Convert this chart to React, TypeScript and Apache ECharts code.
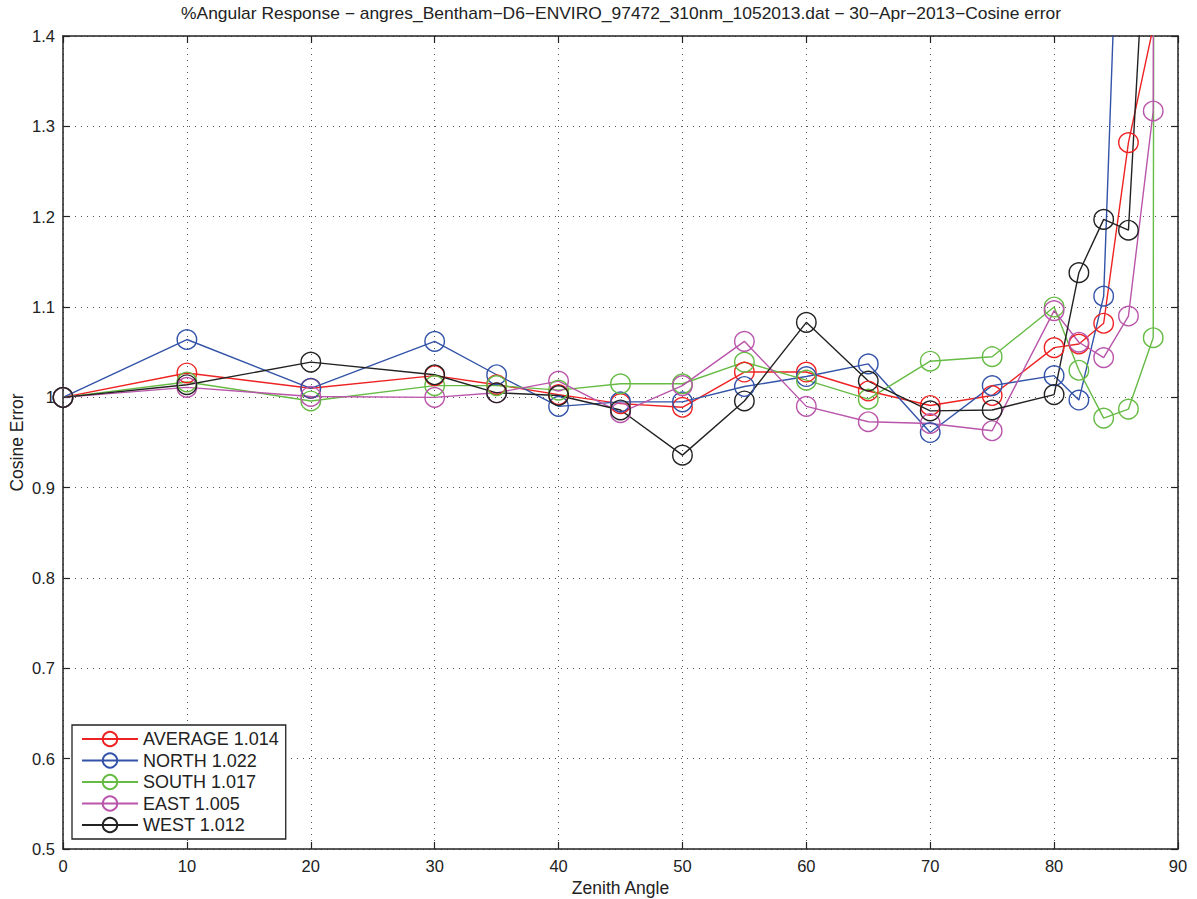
import React, { useEffect, useRef } from "react";
import * as echarts from "echarts";

const angles = [0, 10, 20, 30, 35, 40, 45, 50, 55, 60, 65, 70, 75, 80, 82, 84, 86, 88, 90];
const average = [1.0, 1.027, 1.01, 1.024, 1.014, 1.003, 0.993, 0.989, 1.028, 1.028, 1.007, 0.991, 1.002, 1.055, 1.059, 1.082, 1.282, 1.41, 20];
const north = [1.0, 1.064, 1.01, 1.062, 1.025, 0.99, 0.995, 0.995, 1.012, 1.023, 1.037, 0.961, 1.013, 1.024, 0.997, 1.112, 1.88, 3.0, 20];
const south = [1.0, 1.017, 0.996, 1.013, 1.013, 1.008, 1.015, 1.015, 1.039, 1.019, 0.998, 1.04, 1.045, 1.1, 1.03, 0.977, 0.987, 1.066, 20];
const east = [1.0, 1.011, 1.001, 1.0, 1.005, 1.018, 0.983, 1.013, 1.062, 0.99, 0.973, 0.971, 0.963, 1.096, 1.061, 1.044, 1.09, 1.317, 20];
const west = [1.0, 1.014, 1.039, 1.025, 1.005, 1.002, 0.986, 0.936, 0.996, 1.083, 1.018, 0.985, 0.986, 1.003, 1.138, 1.197, 1.185, 1.68, 20];

const seriesNames = ["AVERAGE 1.014", "NORTH 1.022", "SOUTH 1.017", "EAST 1.005", "WEST 1.012"];
const seriesValues = [average, north, south, east, west];
const seriesColors = ["#ee2222", "#3353a8", "#66bb44", "#b955aa", "#222222"];

const titleText = "%Angular Response \u2212 angres_Bentham\u2212D6\u2212ENVIRO_97472_310nm_1052013.dat \u2212 30\u2212Apr\u22122013\u2212Cosine error";

const FONT = "'Liberation Sans', Arial, Helvetica, sans-serif";

export default function App() {
  const ref = useRef<HTMLDivElement>(null);
  useEffect(() => {
    if (!ref.current) return;
    const chart = echarts.init(ref.current, null, { renderer: "svg" });
    const axisColor = "#222";
    const fmtY = (v: number) => String(parseFloat(v.toFixed(1)));
    const baseX = {
      type: "value",
      min: 0,
      max: 90,
      interval: 10,
      axisLine: { show: true, onZero: false, lineStyle: { color: axisColor, width: 1.5 } },
      axisTick: { show: true, inside: true, length: 7, lineStyle: { color: axisColor, width: 1.2 } },
    };
    const baseY = {
      type: "value",
      min: 0.5,
      max: 1.4,
      interval: 0.1,
      axisLine: { show: true, onZero: false, lineStyle: { color: axisColor, width: 1.5 } },
      axisTick: { show: true, inside: true, length: 7, lineStyle: { color: axisColor, width: 1.2 } },
    };
    const option: any = {
      animation: false,
      backgroundColor: "#fff",
      textStyle: { fontFamily: FONT },
      graphic: [
        {
          type: "text",
          x: 621,
          y: 14,
          scaleX: 1.09,
          style: {
            text: titleText,
            fontFamily: FONT,
            fontSize: 16,
            fill: "#222",
            align: "center",
            verticalAlign: "middle",
          },
        },
      ],
      grid: { left: 63, right: 19, top: 36, bottom: 50, containLabel: false, outerBoundsMode: "none" },
      legend: {
        orient: "vertical",
        left: 72,
        top: 725,
        backgroundColor: "#fff",
        borderColor: "#222",
        borderWidth: 1.3,
        padding: [5, 7, 5, 9],
        itemGap: 3.5,
        itemWidth: 56,
        itemHeight: 18,
        textStyle: { fontFamily: FONT, fontSize: 18, color: "#222" },
        data: seriesNames,
      },
      xAxis: [
        {
          ...baseX,
          position: "bottom",
          name: "Zenith Angle",
          nameLocation: "middle",
          nameGap: 30,
          nameMoveOverlap: false,
          nameTextStyle: { fontFamily: FONT, fontSize: 17.5, color: "#222" },
          axisLabel: { show: true, margin: 8, fontFamily: FONT, fontSize: 16.5, color: "#222" },
          splitLine: { show: true, lineStyle: { color: "#555", width: 1, type: [1, 5] } },
        },
        {
          ...baseX,
          position: "top",
          axisLabel: { show: false },
          splitLine: { show: false },
        },
      ],
      yAxis: [
        {
          ...baseY,
          position: "left",
          name: "Cosine Error",
          nameLocation: "middle",
          nameGap: 37,
          nameMoveOverlap: false,
          nameTextStyle: { fontFamily: FONT, fontSize: 17.5, color: "#222" },
          axisLabel: { show: true, margin: 8, fontFamily: FONT, fontSize: 16.5, color: "#222", formatter: fmtY },
          splitLine: { show: true, lineStyle: { color: "#555", width: 1, type: [1, 5] } },
        },
        {
          ...baseY,
          position: "right",
          axisLabel: { show: false },
          splitLine: { show: false },
        },
      ],
      series: seriesNames.map((name, i) => ({
        name,
        type: "line",
        xAxisIndex: 0,
        yAxisIndex: 0,
        data: angles.map((a, j) => [a, seriesValues[i][j]]),
        symbol: "circle",
        symbolSize: 19.5,
        showSymbol: true,
        clip: true,
        lineStyle: { color: seriesColors[i], width: 1.4 },
        itemStyle: { color: "rgba(255,255,255,0)", borderColor: seriesColors[i], borderWidth: 1.4 },
        emphasis: { disabled: true },
      })),
    };
    chart.setOption(option);
    return () => chart.dispose();
  }, []);
  return (
    <div
      ref={ref}
      style={{ position: "fixed", left: 0, top: 0, width: 1197, height: 899, background: "#fff" }}
    />
  );
}
